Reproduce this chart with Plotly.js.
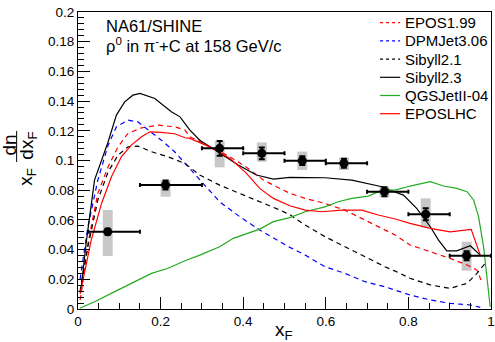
<!DOCTYPE html>
<html>
<head>
<meta charset="utf-8">
<script src="https://cdn.plot.ly/plotly-3.0.1.min.js"></script>
<style>html,body{margin:0;padding:0;background:#fff;}#chart{width:495px;height:342px;}</style>
</head>
<body>
<div id="chart"></div>
<script>
// ---- Data: NA61/SHINE measurement ----
const dataX      = [0.072, 0.212, 0.343, 0.445, 0.543, 0.644, 0.742, 0.842, 0.941];
const dataY      = [0.052, 0.0835, 0.1082, 0.1048, 0.0999, 0.0981, 0.079, 0.0638, 0.0359];
const binLow     = [0.025, 0.15, 0.30, 0.40, 0.50, 0.60, 0.70, 0.80, 0.90];
const binHigh    = [0.15, 0.30, 0.40, 0.50, 0.60, 0.70, 0.80, 0.90, 1.00];
const statErr    = [0.002, 0.003, 0.005, 0.004, 0.003, 0.003, 0.003, 0.004, 0.003];
const sysLow     = [0.0357, 0.0756, 0.0954, 0.0992, 0.0936, 0.0936, 0.0752, 0.055, 0.0258];
const sysHigh    = [0.0667, 0.0869, 0.1133, 0.1122, 0.106, 0.102, 0.0824, 0.0745, 0.0453];

// ---- Model curves ----
const epos199X = [0.005, 0.008, 0.024, 0.048, 0.073, 0.097, 0.121, 0.154, 0.194, 0.234, 0.259, 0.271, 0.30, 0.368, 0.408, 0.449, 0.489, 0.513, 0.55, 0.598, 0.646, 0.695, 0.743, 0.768, 0.804, 0.853, 0.901, 0.942, 0.966, 0.978];
const epos199Y = [0.006, 0.0106, 0.0442, 0.0779, 0.0958, 0.1092, 0.1182, 0.122, 0.1238, 0.1227, 0.1205, 0.116, 0.112, 0.1025, 0.0954, 0.0868, 0.0812, 0.0779, 0.0745, 0.0711, 0.0666, 0.0599, 0.0532, 0.0498, 0.0431, 0.0386, 0.0341, 0.0296, 0.0262, 0.018];

const dpmX = [0.005, 0.008, 0.024, 0.048, 0.073, 0.093, 0.121, 0.145, 0.17, 0.202, 0.234, 0.259, 0.295, 0.343, 0.392, 0.44, 0.489, 0.513, 0.55, 0.598, 0.646, 0.695, 0.743, 0.768, 0.804, 0.853, 0.901, 0.95, 0.974];
const dpmY = [0.02, 0.026, 0.0554, 0.0868, 0.1104, 0.1227, 0.1272, 0.126, 0.1205, 0.1137, 0.1059, 0.098, 0.0868, 0.0722, 0.0621, 0.0532, 0.0453, 0.0415, 0.0363, 0.0285, 0.024, 0.0184, 0.015, 0.0128, 0.0094, 0.0061, 0.0038, 0.0027, 0.0011];

const sib21X = [0.005, 0.008, 0.024, 0.048, 0.073, 0.097, 0.121, 0.145, 0.178, 0.218, 0.259, 0.295, 0.343, 0.392, 0.44, 0.489, 0.513, 0.55, 0.598, 0.646, 0.695, 0.743, 0.768, 0.804, 0.853, 0.901, 0.942, 0.966, 0.986];
const sib21Y = [0.012, 0.0173, 0.042, 0.0734, 0.0924, 0.1036, 0.1092, 0.1097, 0.1059, 0.1025, 0.098, 0.0902, 0.0834, 0.0779, 0.0722, 0.0666, 0.0635, 0.0565, 0.0487, 0.0419, 0.0352, 0.0285, 0.0255, 0.0207, 0.0162, 0.0139, 0.0173, 0.024, 0.0308];

const sib23X = [0.008, 0.02, 0.04, 0.073, 0.093, 0.113, 0.133, 0.15, 0.186, 0.226, 0.247, 0.271, 0.295, 0.327, 0.352, 0.388, 0.432, 0.473, 0.513, 0.55, 0.598, 0.663, 0.695, 0.736, 0.756, 0.788, 0.82, 0.853, 0.873, 0.893, 0.917, 0.95, 0.974];
const sib23Y = [0.015, 0.045, 0.0868, 0.1126, 0.1306, 0.1395, 0.144, 0.1452, 0.1418, 0.1328, 0.1294, 0.1205, 0.1137, 0.108, 0.1036, 0.0969, 0.0902, 0.0875, 0.0886, 0.0886, 0.0884, 0.0868, 0.085, 0.0823, 0.080, 0.0767, 0.0678, 0.0554, 0.0464, 0.0392, 0.0392, 0.0426, 0.0363];

const qgsX = [0.004, 0.04, 0.089, 0.137, 0.178, 0.218, 0.259, 0.295, 0.343, 0.376, 0.408, 0.44, 0.473, 0.513, 0.55, 0.598, 0.63, 0.663, 0.703, 0.736, 0.768, 0.804, 0.853, 0.885, 0.917, 0.942, 0.958, 0.97, 0.982, 0.99, 0.998];
const qgsY = [0.0005, 0.0049, 0.0117, 0.0184, 0.024, 0.0274, 0.0325, 0.0363, 0.0419, 0.0476, 0.0509, 0.0538, 0.0588, 0.0615, 0.0655, 0.0688, 0.0722, 0.0745, 0.076, 0.080, 0.080, 0.0828, 0.0857, 0.0828, 0.0812, 0.079, 0.0734, 0.0621, 0.0419, 0.0217, 0.0015];

const eposLhcX = [0.005, 0.016, 0.032, 0.057, 0.081, 0.105, 0.129, 0.154, 0.174, 0.202, 0.234, 0.259, 0.271, 0.319, 0.368, 0.408, 0.44, 0.473, 0.513, 0.55, 0.59, 0.639, 0.687, 0.727, 0.768, 0.804, 0.853, 0.901, 0.952, 0.974];
const eposLhcY = [0.01, 0.024, 0.0464, 0.0711, 0.089, 0.1025, 0.1104, 0.116, 0.1193, 0.1189, 0.118, 0.1153, 0.1149, 0.1092, 0.1014, 0.0913, 0.0812, 0.0745, 0.0695, 0.0666, 0.0655, 0.0666, 0.0666, 0.0633, 0.0606, 0.0577, 0.0543, 0.052, 0.0536, 0.0363];

const xTickVals = [0, 0.2, 0.4, 0.6, 0.8, 1];
const xTickText = ["0", "0.2", "0.4", "0.6", "0.8", "1"];
const yTickVals = [0, 0.02, 0.04, 0.06, 0.08, 0.1, 0.12, 0.14, 0.16, 0.18, 0.2];
const yTickText = ["0", "0.02", "0.04", "0.06", "0.08", "0.1", "0.12", "0.14", "0.16", "0.18", "0.2"];

const modelNames  = ['EPOS1.99', 'DPMJet3.06', 'Sibyll2.1', 'Sibyll2.3', 'QGSJetII-04', 'EPOSLHC'];
const modelColors = ['#ff0000', '#0000ff', '#000000', '#000000', '#22aa22', '#ff0000'];
const modelDashed = [true, true, true, false, false, false];
const modelX = [epos199X, dpmX, sib21X, sib23X, qgsX, eposLhcX];
const modelY = [epos199Y, dpmY, sib21Y, sib23Y, qgsY, eposLhcY];

const dash = '5px,4px';
const font = 'Liberation Sans, Arial, Helvetica, sans-serif';

const traces = [
  {type:'bar', x:dataX, base:sysLow, y:sysHigh.map((h,i)=>h-sysLow[i]), width:0.024,
   marker:{color:'#c8c8c8', line:{width:0}}, showlegend:false, hoverinfo:'skip'}
];
modelNames.forEach((n,i)=>{
  traces.push({type:'scatter', mode:'lines', name:n, x:modelX[i], y:modelY[i], showlegend:false,
    line:{color:modelColors[i], width:1.2, dash: modelDashed[i] ? dash : 'solid'}});
});
traces.push({type:'scatter', mode:'markers', x:dataX, y:dataY, showlegend:false,
   marker:{color:'#000', size:9, symbol:'circle'},
   error_x:{type:'data', symmetric:false, array:binHigh.map((h,i)=>h-dataX[i]), arrayminus:dataX.map((x,i)=>x-binLow[i]), color:'#000', thickness:2, width:2},
   error_y:{type:'data', array:statErr, color:'#000', thickness:2, width:3}});

// plot area in px: left 78.3, width 412.5, top 12, height 297
const px2x = p => (p-78.3)/412.5;
const py2y = p => (309-p)/297;

const annotations = [
  {xref:'paper', yref:'paper', x:0.062, y:0.953, xanchor:'left', yanchor:'middle', showarrow:false,
   text:'NA61/SHINE', font:{size:16.5}},
  {xref:'paper', yref:'paper', x:0.062, y:0.889, xanchor:'left', yanchor:'middle', showarrow:false,
   text:'ρ<sup>0</sup> in π<sup>-</sup>+C at 158 GeV/c', font:{size:16.5}},
  {xref:'paper', yref:'paper', x:px2x(284), y:py2y(331), xanchor:'center', yanchor:'middle', showarrow:false,
   text:'x<sub>F</sub>', font:{size:19}},
  {xref:'paper', yref:'paper', x:px2x(27), y:py2y(177), xanchor:'center', yanchor:'middle', showarrow:false, textangle:-90,
   text:'x<sub>F</sub>', font:{size:19}},
  {xref:'paper', yref:'paper', x:px2x(9), y:py2y(145), xanchor:'center', yanchor:'middle', showarrow:false, textangle:-90,
   text:'dn', font:{size:19}},
  {xref:'paper', yref:'paper', x:px2x(28), y:py2y(146), xanchor:'center', yanchor:'middle', showarrow:false, textangle:-90,
   text:'dx<sub>F</sub>', font:{size:19}}
];
const shapes = [
  {type:'line', xref:'paper', yref:'paper', x0:px2x(17), x1:px2x(17), y0:py2y(131), y1:py2y(162), line:{color:'#000', width:1}}
];
// legend entries
modelNames.forEach((n,i)=>{
  const rowY = 22.7 + 18.2*i;
  shapes.push({type:'line', xref:'paper', yref:'paper', x0:px2x(380), x1:px2x(400), y0:py2y(rowY), y1:py2y(rowY),
    line:{color:modelColors[i], width:1.2, dash: modelDashed[i] ? '3px,3px' : 'solid'}});
  annotations.push({xref:'paper', yref:'paper', x:px2x(403), y:py2y(rowY), xanchor:'left', yanchor:'middle',
    showarrow:false, text:n, font:{size:15}});
});

const layout = {
  width:495, height:342,
  margin:{l:78, r:4, t:12, b:33},
  paper_bgcolor:'#fff', plot_bgcolor:'#fff',
  font:{family:font, color:'#000', size:13.5},
  barmode:'overlay',
  showlegend:false,
  xaxis:{range:[0,1], showgrid:false, zeroline:false, showline:true, linecolor:'#000', linewidth:1, mirror:true,
         ticks:'inside', ticklen:12, tickcolor:'#000', tickvals:xTickVals, ticktext:xTickText,
         tickfont:{size:13.5}, minor:{dtick:0.05, ticks:'inside', ticklen:6, tickcolor:'#000'}},
  yaxis:{range:[0,0.2], showgrid:false, zeroline:false, showline:true, linecolor:'#000', linewidth:1, mirror:true,
         ticks:'inside', ticklen:12, tickcolor:'#000', tickvals:yTickVals, ticktext:yTickText,
         tickfont:{size:13.5}, minor:{dtick:0.004, ticks:'inside', ticklen:6, tickcolor:'#000'}},
  annotations:annotations,
  shapes:shapes
};
Plotly.newPlot('chart', traces, layout, {displayModeBar:false, staticPlot:true});
</script>
</body>
</html>
